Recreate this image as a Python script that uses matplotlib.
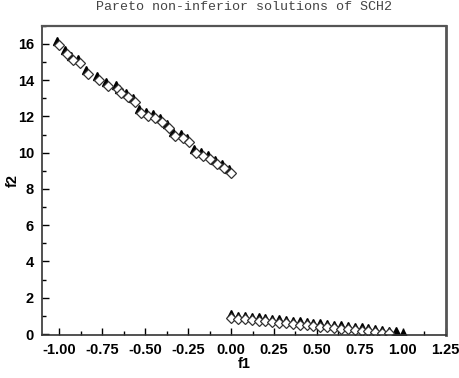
import matplotlib.pyplot as plt
from matplotlib.ticker import MultipleLocator

# obtained solutions (open diamonds)
left_f1 = [-1.00, -0.957, -0.918, -0.880, -0.835, -0.767, -0.719, -0.660, -0.640,
           -0.602, -0.557, -0.524, -0.486, -0.441, -0.402, -0.363, -0.324, -0.282,
           -0.243, -0.204, -0.165, -0.122, -0.084, -0.039, 0.00]
left_f2 = [15.94, 15.45, 15.12, 14.93, 14.34, 13.98, 13.70, 13.52, 13.31,
           13.09, 12.82, 12.21, 12.03, 11.93, 11.71, 11.35, 10.94, 10.80,
           10.58, 9.97, 9.82, 9.66, 9.38, 9.18, 8.90]
right_f1 = [0.00, 0.04, 0.08, 0.12, 0.16, 0.20, 0.24, 0.28, 0.32, 0.36, 0.40, 0.44,
            0.48, 0.52, 0.56, 0.60, 0.64, 0.68, 0.72, 0.76, 0.80, 0.84, 0.88, 0.92]
right_f2 = [0.88, 0.84, 0.80, 0.77, 0.73, 0.69, 0.66, 0.62, 0.58, 0.55, 0.51, 0.47,
            0.44, 0.40, 0.36, 0.33, 0.29, 0.25, 0.22, 0.18, 0.14, 0.11, 0.07, 0.03]

# true front (filled triangles)
true_left_f1 = [-1.012, -0.969, -0.930, -0.892, -0.847, -0.779, -0.731, -0.672, -0.652,
                -0.614, -0.569, -0.536, -0.498, -0.453, -0.414, -0.375, -0.336, -0.294,
                -0.255, -0.216, -0.177, -0.134, -0.096, -0.051, -0.012]
true_left_f2 = [16.16, 15.67, 15.34, 15.15, 14.56, 14.20, 13.92, 13.74, 13.53,
                13.31, 13.04, 12.43, 12.25, 12.15, 11.93, 11.57, 11.16, 11.02,
                10.80, 10.19, 10.04, 9.88, 9.60, 9.40, 9.12]
true_right_f1 = [0.00, 0.04, 0.08, 0.12, 0.16, 0.20, 0.24, 0.28, 0.32, 0.36, 0.40, 0.44, 0.48,
                 0.52, 0.56, 0.60, 0.64, 0.68, 0.72, 0.76, 0.80, 0.84, 0.88, 0.92, 0.96, 1.00]
true_right_f2 = [1.08, 1.02, 0.98, 0.95, 0.91, 0.87, 0.83, 0.80, 0.76, 0.72, 0.69, 0.65, 0.62,
                 0.58, 0.55, 0.51, 0.47, 0.44, 0.40, 0.36, 0.32, 0.28, 0.24, 0.19, 0.14, 0.08]

x_ticks = [-1.00, -0.75, -0.50, -0.25, 0.00, 0.25, 0.50, 0.75, 1.00, 1.25]
y_ticks = [0, 2, 4, 6, 8, 10, 12, 14, 16]

fig = plt.figure(figsize=(4.59, 3.78), dpi=100)
ax = fig.add_axes([0.092, 0.114, 0.879, 0.818])

tri_kw = dict(linestyle='none', marker='^', markersize=6.3, color='black')
dia_kw = dict(linestyle='none', marker='D', markersize=5, markerfacecolor='white',
              markeredgecolor='#333333', markeredgewidth=0.9)
ax.plot(true_left_f1, true_left_f2, **tri_kw)
ax.plot(true_right_f1, true_right_f2, **tri_kw)
ax.plot(left_f1, left_f2, **dia_kw)
ax.plot(right_f1, right_f2, **dia_kw)

ax.set_xlim(-1.1, 1.25)
ax.set_ylim(-0.05, 17)
ax.set_xticks(x_ticks)
ax.set_xticklabels([f"{v:.2f}" for v in x_ticks])
ax.set_yticks(y_ticks)
ax.xaxis.set_minor_locator(MultipleLocator(0.125))
ax.yaxis.set_minor_locator(MultipleLocator(1))
ax.tick_params(which='both', direction='in', top=False, right=False, width=1)
ax.tick_params(which='major', length=5, labelsize=10.5, pad=6)
ax.tick_params(which='minor', length=3)
for lab in ax.get_xticklabels() + ax.get_yticklabels():
    lab.set_fontweight('bold')
    lab.set_family('Liberation Sans')

for sp in ax.spines.values():
    sp.set_linewidth(1.2)
    sp.set_color('#333333')
ax.spines['right'].set_linewidth(2)
ax.spines['top'].set_linewidth(1.6)
ax.spines['right'].set_color('#555555')
ax.spines['top'].set_color('#555555')

ax.set_xlabel('f1', fontsize=10.5, fontweight='bold', family='Liberation Sans')
ax.set_ylabel('f2', fontsize=10.5, fontweight='bold', family='Liberation Sans')
ax.xaxis.set_label_coords(0.5, -0.07)
ax.yaxis.set_label_coords(-0.055, 0.5)
fig.text(0.532, 0.997, 'Pareto non-inferior solutions of SCH2', ha='center', va='top',
         fontsize=9.6, family='Liberation Mono', color='#444444')

fig.savefig('out.png', dpi=100)
